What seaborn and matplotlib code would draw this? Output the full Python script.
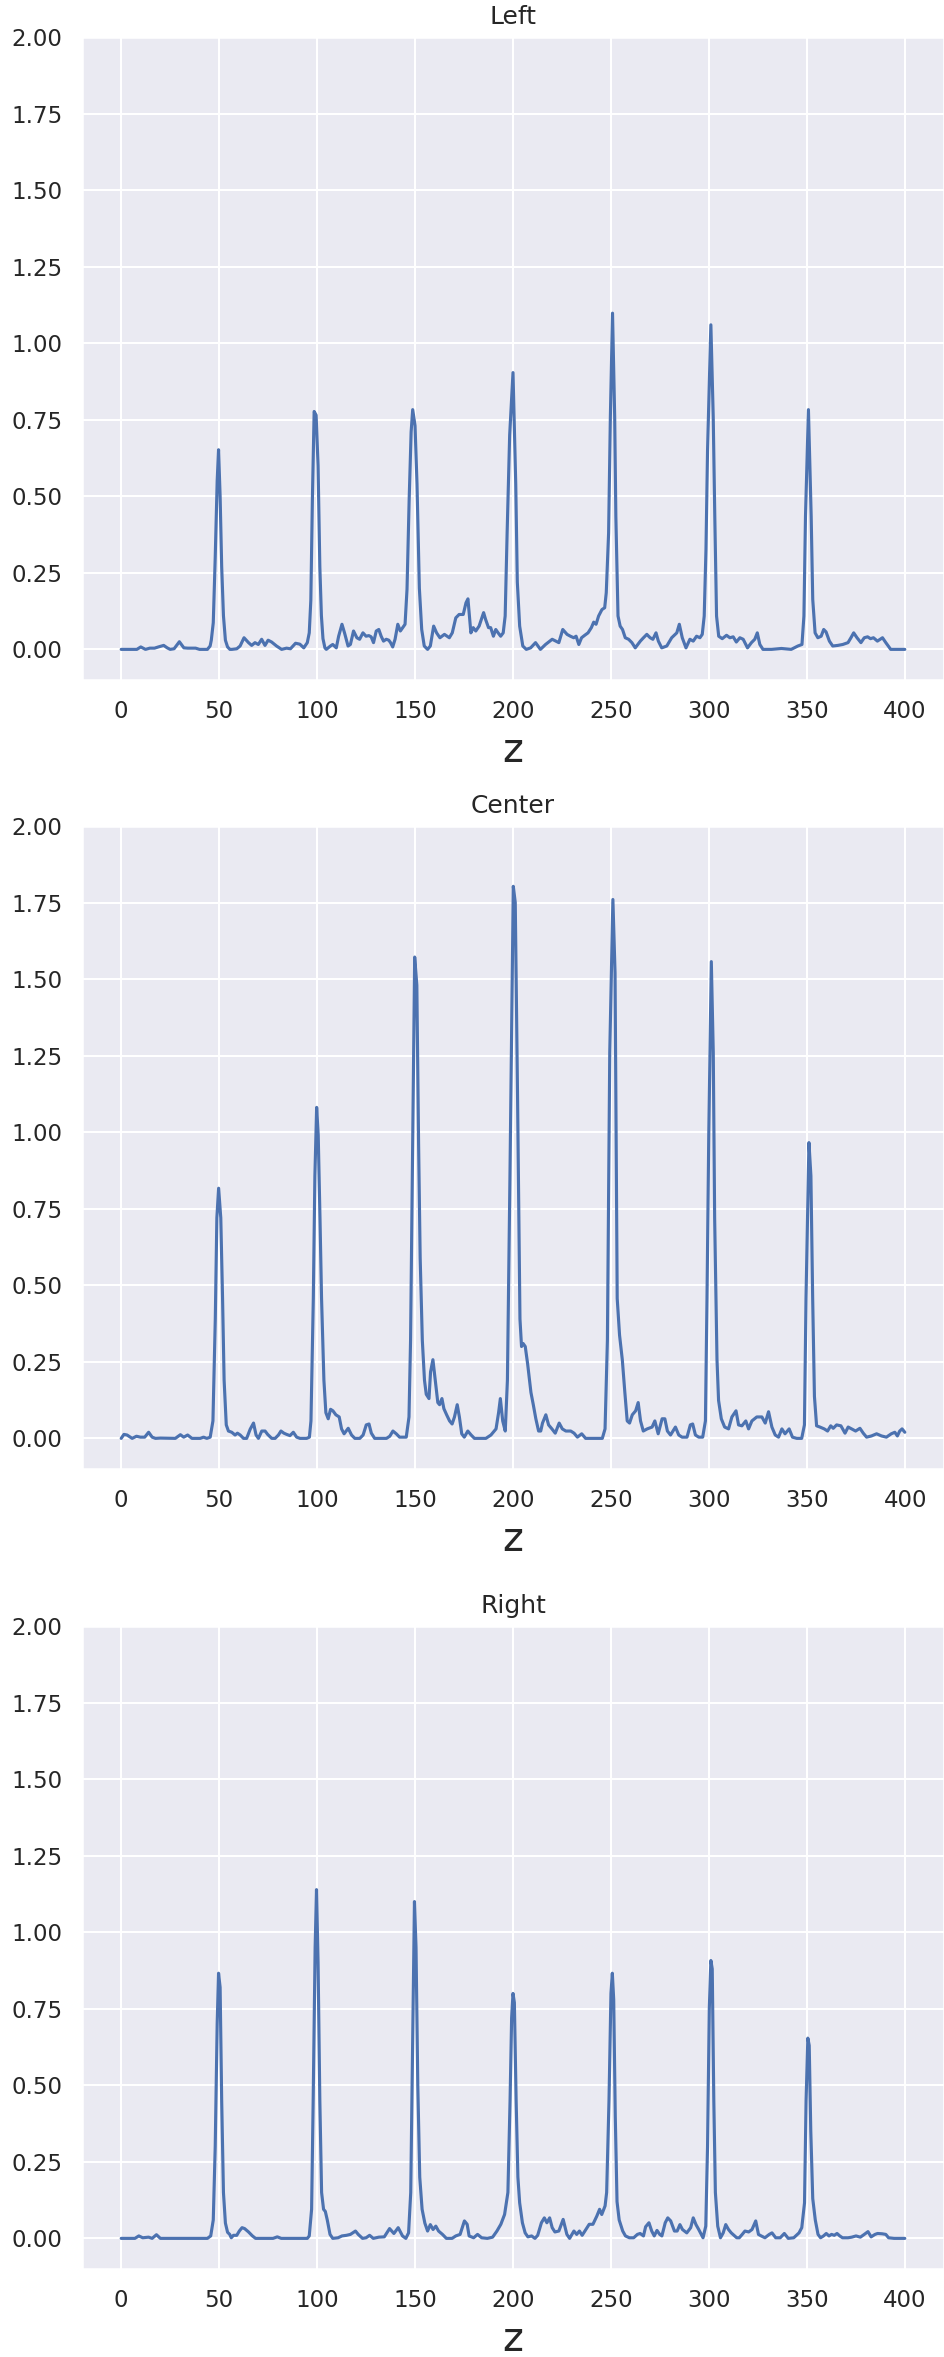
import numpy as np
import matplotlib.pyplot as plt
import seaborn as sns

# --- Left ---
z_left = [0, 8, 10, 12.4, 14.6, 17, 19, 21.7, 23.5, 25, 27, 29.7, 32, 34, 36, 38, 40, 44, 45.4,
          46, 47, 48, 49, 49.7, 50.5, 51.3, 52.2, 53.2, 54.3, 55.5, 56.5, 59, 60.7, 62.7, 65, 66.6,
          68.3, 70, 71.7, 73.4, 75, 76.8, 79.3, 81.9, 84.4, 86.4, 89, 91.2, 93.2, 95, 96, 96.8,
          97.6, 98.5, 99.5, 100.5, 101.4, 102.2, 103, 104, 104.7, 106.8, 108, 109.8, 111, 112.7,
          114, 115.8, 117, 118.6, 120.3, 121.7, 123.4, 125, 126.4, 127.6, 128.8, 130.2, 131.5,
          132.7, 133.9, 135.3, 136.6, 137.5, 138.6, 139.8, 141.2, 142.5, 143.7, 144.9, 145.9, 147,
          148, 148.8, 150, 151, 152.2, 153.4, 154.7, 156.4, 157.8, 159.5, 161, 162.7, 165, 167.5,
          169, 170.8, 172.5, 174.6, 176, 177, 178.5, 179.7, 181, 182.7, 185, 186, 187.5, 188.6,
          190, 191.2, 192.4, 193.7, 195, 196, 197, 198.3, 200, 201.4, 202.2, 203.4, 205, 206.8,
          209, 211.5, 214, 216.6, 220, 223.4, 225.4, 227.6, 229.3, 231, 232.2, 233.6, 235, 236.6,
          238.3, 240, 241.2, 242.4, 243.7, 245.4, 246.8, 247.6, 248.8, 249.7, 250.8, 251.9, 252.5,
          253.6, 254.7, 255.9, 257.3, 259, 260.7, 262.4, 265, 266.6, 268.3, 270, 271.4, 273,
          274.2, 275.9, 278.5, 281, 283.6, 284.9, 286.4, 288.3, 290.3, 292, 293.7, 295.4, 296.6,
          297.6, 298.5, 299.3, 301, 302.2, 303, 303.9, 305, 306.8, 309, 310.7, 312.4, 314, 315.8,
          317.5, 319.7, 321.7, 323.4, 324.7, 326, 327.6, 332, 337, 342, 345.4, 347.5, 348.5,
          349.3, 350.8, 352.2, 353, 354.2, 355.6, 357.3, 358.6, 359.8, 361.5, 363.2, 365.8, 368.3,
          371, 372.5, 373.9, 375.6, 377.6, 379.3, 381, 382.5, 384, 386, 388.6, 390.3, 392.8, 400]
y_left = [0, 0, 0.008, 0, 0.004, 0.004, 0.008, 0.013, 0.005, 0, 0.002, 0.025, 0.005, 0.004, 0.004,
          0.004, 0, 0, 0.011,
          0.03, 0.087, 0.3, 0.55, 0.652, 0.5, 0.27, 0.11, 0.03, 0.008, 0, 0, 0.002, 0.011, 0.038,
          0.022, 0.013,
          0.022, 0.016, 0.033, 0.013, 0.03, 0.024, 0.011, 0, 0.004, 0.002, 0.02, 0.017, 0.005,
          0.022, 0.054, 0.16,
          0.49, 0.777, 0.765, 0.6, 0.27, 0.11, 0.035, 0.005, 0, 0.011, 0.016, 0.005, 0.043, 0.082,
          0.054, 0.011, 0.016, 0.06, 0.038, 0.033, 0.054, 0.043, 0.045, 0.041, 0.022, 0.06, 0.065,
          0.043, 0.027, 0.033, 0.03, 0.022, 0.008, 0.033, 0.082, 0.06, 0.071, 0.082, 0.196, 0.49,
          0.71, 0.783, 0.73, 0.54, 0.2, 0.065, 0.011, 0, 0.011, 0.076, 0.054, 0.038, 0.049, 0.038,
          0.054, 0.103, 0.114, 0.114, 0.152, 0.165, 0.054, 0.071, 0.06, 0.076, 0.12, 0.098, 0.071,
          0.071,
          0.043, 0.065, 0.054, 0.043, 0.054, 0.109, 0.38, 0.7, 0.904, 0.54, 0.22, 0.076, 0.011, 0,
          0.005, 0.022, 0, 0.016, 0.033, 0.022, 0.065, 0.049, 0.043, 0.038, 0.043, 0.016, 0.038,
          0.046,
          0.054, 0.071, 0.089, 0.082, 0.109, 0.13, 0.136, 0.185, 0.38, 0.76, 1.098, 0.76, 0.435,
          0.109, 0.076, 0.065, 0.038, 0.033, 0.022, 0.005, 0.027, 0.038, 0.049, 0.038, 0.033,
          0.054,
          0.027, 0.005, 0.011, 0.038, 0.054, 0.082, 0.038, 0.005, 0.033, 0.027, 0.043, 0.038,
          0.049,
          0.109, 0.326, 0.65, 1.06, 0.76, 0.435, 0.109, 0.043, 0.035, 0.046, 0.038, 0.041, 0.024,
          0.038,
          0.033, 0.005, 0.022, 0.033, 0.054, 0.016, 0, 0, 0.003, 0, 0.011, 0.016, 0.109,
          0.435, 0.783, 0.435, 0.163, 0.054, 0.038, 0.043, 0.065, 0.057, 0.027, 0.011, 0.013,
          0.016,
          0.022, 0.038, 0.054, 0.038, 0.022, 0.038, 0.041, 0.035, 0.038, 0.027, 0.038, 0.022, 0, 0]

# --- Center ---
z_center = [0, 1.4, 3, 5.6, 7.8, 9.8, 12, 14, 15.8, 17.5, 20, 27.6, 30.2, 31.9, 33.9, 36.1, 40.3,
            42, 43.7, 45.4, 46.8, 48, 48.8, 49.7, 50.8, 51.7, 52.5, 53.6, 54.7, 56.4, 58.1, 59.3,
            60.7, 62.4, 64, 65.8, 67.5, 68.8, 70, 71.7, 73.4, 74.7, 76.8, 78.5, 80.2, 81.5, 83,
            84.4, 86.1, 87.8, 89.5, 91.2, 94.6, 96, 96.8, 98, 98.8, 99.7, 100.5, 101.4, 102.2,
            103.4, 104.4, 105.6, 106.8, 108, 109.5, 111.2, 112.4, 113.7, 115.8, 117.5, 119.2,
            121.7, 123.4, 125, 126.4, 127.6, 129.3, 135.3, 137, 138.6, 140.3, 142, 145.4, 146.8,
            147.6, 148.5, 149.7, 150.8, 151.7, 152.5, 153.6, 154.7, 155.6, 157, 157.8, 159, 160.2,
            161.5, 162.4, 163.6, 164.6, 166, 167.5, 168.8, 170, 171.4, 172.5, 173.7, 175, 176.8,
            178.5, 180.2, 186, 188.6, 191.2, 192.5, 193.4, 194.6, 195.9, 197, 198.3, 200, 201,
            202.2, 203.4, 204.2, 205, 206.1, 207.3, 209, 210.2, 211.5, 212.9, 214, 214.9, 216.6,
            218, 219.7, 221.4, 223.4, 225, 226.8, 229.3, 231, 232.7, 234.9, 236.9, 245.4, 246.8,
            248, 249.2, 250.8, 251.9, 253, 254.2, 255.6, 256.9, 258.1, 259.3, 260.7, 262.4, 263.7,
            264.9, 266.3, 268.3, 270.8, 272.2, 273.9, 275.9, 277.3, 278.6, 280.2, 282.7, 284.4,
            286.1, 288.6, 290.3, 291.5, 292.9, 294.6, 296.6, 298, 298.8, 299.7, 301, 302, 302.7,
            303.9, 304.7, 306.1, 307.8, 309.8, 311.5, 313.6, 314.9, 316.6, 318.6, 320, 321.7,
            324.2, 326.8, 328.5, 330.2, 331.9, 333.6, 335.3, 337, 338.6, 340.7, 342.4, 344.6,
            347.1, 348.5, 349.3, 350.8, 351.8, 352.7, 353.6, 354.7, 356.4, 358.6, 360.3, 361.9,
            363.2, 364.9, 367.1, 369.2, 370.8, 372.5, 374.6, 376.8, 378.5, 380.2, 382.7, 385.3,
            387.8, 390.3, 392.8, 394.6, 395.9, 397.1, 398.3, 399.7]
y_center = [0, 0.013, 0.011, 0, 0.007, 0.004, 0.004, 0.02, 0.004, 0, 0.001, 0, 0.012, 0.004,
            0.011, 0, 0,
            0.004, 0, 0.004, 0.057, 0.39, 0.72, 0.817, 0.72, 0.46, 0.19, 0.044, 0.024, 0.02,
            0.011, 0.017,
            0.011, 0, 0, 0.03, 0.05, 0.011, 0, 0.024, 0.024, 0.013, 0, 0, 0.011, 0.024, 0.017,
            0.013, 0.009, 0.02, 0.004, 0, 0, 0.004, 0.057, 0.457, 0.857, 1.081, 0.99, 0.72, 0.457,
            0.19, 0.084, 0.064, 0.095, 0.09, 0.077, 0.07, 0.031, 0.015, 0.033, 0.011, 0,
            0, 0.011, 0.044, 0.047, 0.017, 0, 0, 0.007, 0.024, 0.015, 0.004, 0.004, 0.07,
            0.32, 0.857, 1.572, 1.48, 0.96, 0.59, 0.32, 0.19, 0.144, 0.13, 0.217, 0.257, 0.19,
            0.117, 0.11, 0.13, 0.097, 0.077, 0.057, 0.047, 0.07, 0.11, 0.07, 0.015, 0.004, 0.024,
            0.011, 0, 0, 0.011, 0.031, 0.084, 0.13, 0.057, 0.024, 0.19, 0.857, 1.803, 1.75,
            1.1, 0.39, 0.3, 0.31, 0.3, 0.244, 0.15, 0.11, 0.064, 0.024, 0.024, 0.05, 0.077,
            0.044, 0.031, 0.017, 0.05, 0.031, 0.024, 0.024, 0.017, 0.004, 0.015, 0, 0, 0.031,
            0.32, 1.26, 1.76, 1.52, 0.457, 0.337, 0.257, 0.15, 0.057, 0.05, 0.077, 0.09, 0.117,
            0.057, 0.024, 0.031, 0.037, 0.057, 0.015, 0.064, 0.064, 0.024, 0.011, 0.037, 0.011,
            0.004, 0.004, 0.044, 0.047, 0.011, 0.004, 0.004, 0.057, 0.457, 0.99, 1.557, 1.26, 0.72,
            0.257, 0.124, 0.064, 0.037, 0.031, 0.07, 0.09, 0.044, 0.041, 0.057, 0.031, 0.057,
            0.07, 0.07, 0.05, 0.087, 0.037, 0.011, 0.004, 0.031, 0.015, 0.031, 0.004, 0,
            0, 0.044, 0.457, 0.966, 0.857, 0.457, 0.137, 0.041, 0.037, 0.031, 0.024, 0.041,
            0.033, 0.044, 0.041, 0.017, 0.037, 0.031, 0.024, 0.033, 0.017, 0.004, 0.008, 0.015,
            0.008, 0.004, 0.015, 0.02, 0.008, 0.024, 0.031, 0.02]

# --- Right ---
z_right = [0, 7, 9, 11, 14, 15.8, 18, 20, 44, 45.7, 47, 48, 49, 49.7, 50.5, 51.3, 52.2, 53.2,
           54.3, 55.4, 56.2, 57.3, 59, 60.3, 61.7, 63, 65, 67, 68.6, 77.5, 79.7, 81.7, 95, 96,
           97.2, 98, 99, 99.7, 100.5, 101.4, 102.3, 103.3, 104.2, 105.2, 106.6, 108, 110.7, 112.7,
           115, 117, 119.6, 121, 123.2, 125, 126.8, 128.7, 131.5, 134.3, 137, 139.2, 141.4, 143.6,
           145.3, 146.7, 147.8, 148.8, 149.7, 150.5, 151.4, 152.4, 153.6, 155, 156.4, 157.8,
           159.2, 160.6, 162, 164, 166, 168.9, 170.8, 173, 175.2, 176.6, 177.6, 179.9, 181.9, 184,
           186.9, 189.6, 191.8, 193.8, 195.7, 197.4, 198.5, 199.3, 200, 200.7, 201.6, 202.5,
           203.4, 204.8, 206.2, 207.6, 209.5, 211.2, 212.6, 214.5, 216, 217.3, 218.7, 220, 221.4,
           223.4, 225.6, 227.5, 228.9, 231.1, 232.5, 233.9, 235.3, 236.7, 238.9, 240.8, 242.8,
           244.2, 245.3, 247, 247.8, 249, 250, 250.7, 251.4, 252.2, 253.1, 254.2, 256, 257.4,
           259.4, 261.6, 263.5, 264.9, 266.6, 267.7, 269.4, 270.8, 272.1, 273.5, 274.9, 276,
           277.7, 279, 280.5, 282.4, 283.8, 285.2, 286.5, 288.7, 290.7, 292, 293.4, 294.8, 297,
           298.4, 299.3, 300.2, 301, 301.7, 302.5, 303.3, 304.5, 305.9, 307.3, 308.6, 310, 311.4,
           312.8, 314.2, 315.5, 317, 318.4, 320.3, 322, 323.9, 325.3, 326.7, 328.6, 330.8, 332.2,
           334.1, 336.4, 338.5, 340.5, 343.3, 346, 347.4, 348.8, 349.6, 350.5, 351.2, 352, 353,
           354.3, 355.7, 357, 358.5, 359.9, 361.3, 362.6, 364, 365.4, 366.8, 368.2, 371, 372.9,
           375.1, 377.3, 379.3, 381.2, 382.8, 384.8, 386.1, 388.4, 390.3, 391.7, 394.5, 400]
y_right = [0, 0, 0.008, 0.002, 0.004, 0, 0.012, 0, 0, 0.008, 0.06, 0.3, 0.7, 0.866, 0.82, 0.45,
           0.15, 0.05,
           0.02, 0.013, 0.002, 0.01, 0.01, 0.024, 0.035, 0.032, 0.021, 0.008, 0, 0, 0.005, 0, 0,
           0.008,
           0.095, 0.45, 0.95, 1.139, 0.9, 0.45, 0.15, 0.095, 0.088, 0.06, 0.013, 0, 0.002, 0.008,
           0.01, 0.013, 0.024, 0.013, 0, 0.002, 0.01, 0, 0.004, 0.005, 0.032, 0.016, 0.035, 0.008,
           0, 0.018, 0.15, 0.65, 1.10, 0.95, 0.5, 0.2, 0.095, 0.05, 0.024, 0.045,
           0.029, 0.04, 0.024, 0.013, 0, 0, 0.008, 0.013, 0.057, 0.046, 0.008, 0.002, 0.013,
           0.002,
           0, 0.004, 0.024, 0.046, 0.078, 0.15, 0.45, 0.72, 0.80, 0.77, 0.45, 0.2,
           0.116, 0.051, 0.018, 0.005, 0.008, 0, 0.01, 0.051, 0.067, 0.051, 0.067, 0.035, 0.021,
           0.024, 0.062, 0.013, 0, 0.024, 0.013, 0.024, 0.01, 0.024, 0.046, 0.046, 0.073,
           0.095, 0.078, 0.106, 0.15, 0.45, 0.8, 0.866, 0.78, 0.4, 0.12, 0.06, 0.024, 0.008,
           0.002, 0.002, 0.013, 0.016, 0.008, 0.038, 0.051, 0.024, 0.008, 0.026, 0.013, 0.008,
           0.051, 0.067, 0.057, 0.024, 0.024, 0.045, 0.029, 0.018, 0.035, 0.067, 0.045, 0.029,
           0.002,
           0.04, 0.3, 0.75, 0.9075, 0.88, 0.45, 0.15, 0.04, 0.002, 0.018, 0.045, 0.029, 0.018,
           0.01, 0.002, 0.002, 0.013, 0.024, 0.021, 0.029, 0.057, 0.013, 0.008, 0.002, 0.013,
           0.018,
           0.002, 0.002, 0.016, 0, 0.002, 0.018, 0.035, 0.116, 0.45, 0.654, 0.63, 0.35, 0.13,
           0.06, 0.013, 0.002, 0.008, 0.016, 0.008, 0.013, 0.01, 0.016, 0.008, 0.002, 0.002,
           0.004,
           0.008, 0.004, 0.013, 0.022, 0.005, 0.013, 0.016, 0.015, 0.013, 0.002, 0, 0]

titles = ["Left", "Center", "Right"]
series = [(z_left, y_left), (z_center, y_center), (z_right, y_right)]

sns.set_theme(style="darkgrid")

W, H = 944, 2357
fig = plt.figure(figsize=(W / 150, H / 150), dpi=150)

# axes top / bottom in pixels, measured from the top of the figure
boxes = [(37, 680), (826, 1469), (1626, 2269)]
left_px = 82

for (top, bottom), title, (zs, ys) in zip(boxes, titles, series):
    ax = fig.add_axes([left_px / W, 1 - bottom / H, (W - left_px) / W, (bottom - top) / H])
    sns.lineplot(x=zs, y=ys, ax=ax)
    ax.set_ylim(-0.1, 2.0)
    ax.set_yticks(np.arange(0, 2.01, 0.25))
    ax.set_xticks(np.arange(0, 401, 50))
    ax.set_title(title)
    ax.set_xlabel("z", fontsize=19)

plt.savefig("out.png", dpi=150)
plt.close()
